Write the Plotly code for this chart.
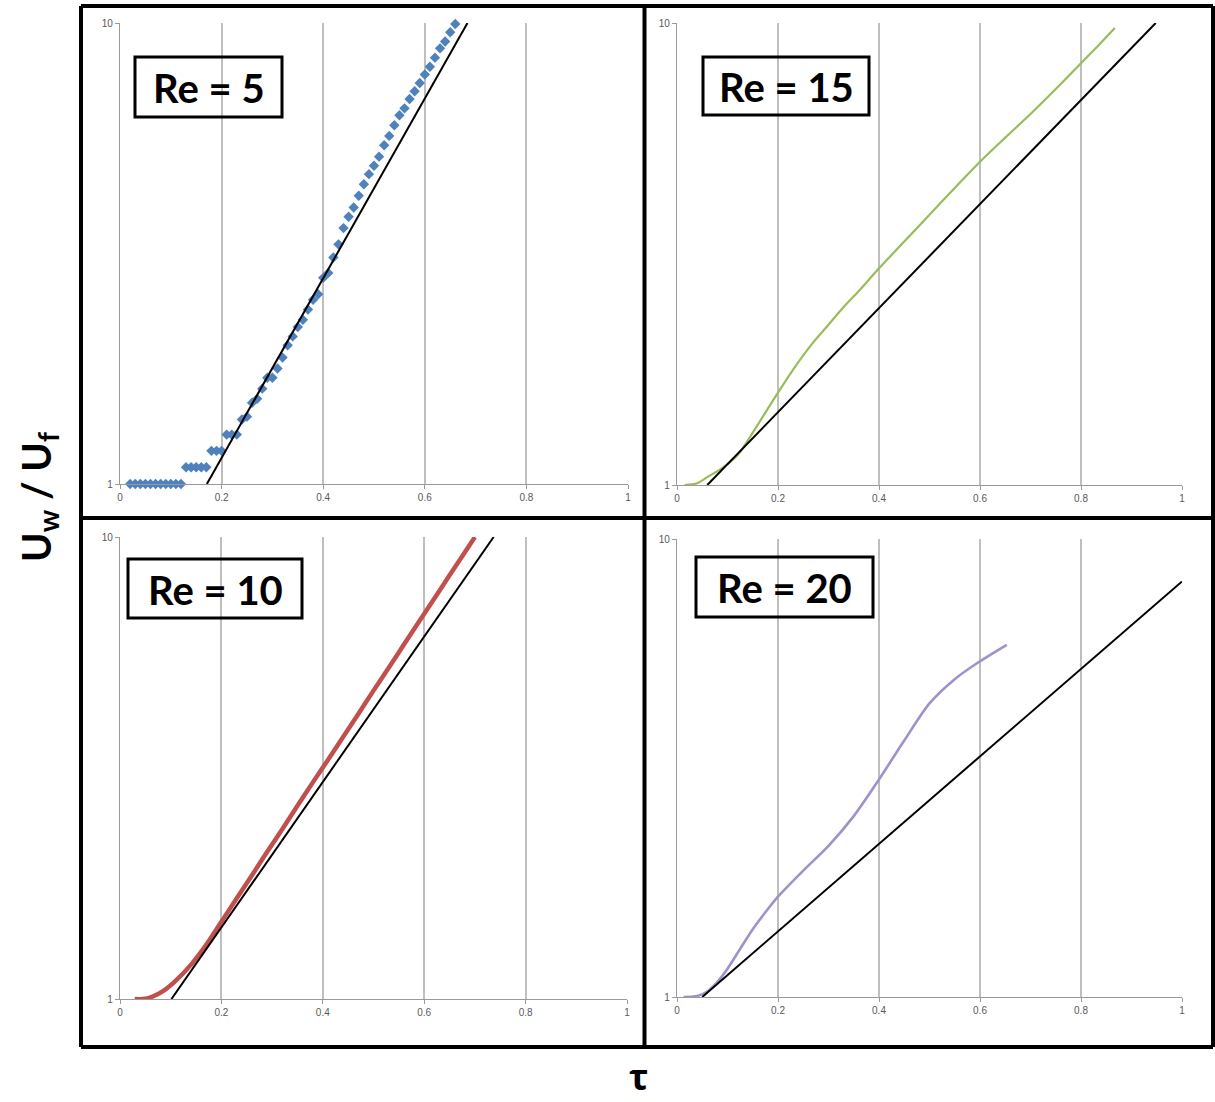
import plotly.graph_objects as go

W, H = 1215, 1102

# ---------------- data ----------------
# Re = 5 (blue diamonds)
re5_x = [0.02, 0.03, 0.04, 0.05, 0.06, 0.07, 0.08, 0.09, 0.10, 0.11, 0.12,
         0.13, 0.14, 0.15, 0.16, 0.17,
         0.18, 0.19, 0.20,
         0.21, 0.22, 0.23,
         0.24, 0.25, 0.26, 0.27, 0.28, 0.29, 0.30, 0.31, 0.32, 0.33, 0.34,
         0.35, 0.36, 0.37, 0.38, 0.39, 0.40, 0.41, 0.42, 0.43, 0.44, 0.45,
         0.46, 0.47, 0.48, 0.49, 0.50, 0.51, 0.52, 0.53, 0.54, 0.55, 0.56,
         0.57, 0.58, 0.59, 0.60, 0.61, 0.62, 0.63, 0.64, 0.65, 0.66]
re5_y = [1.0, 1.0, 1.0, 1.0, 1.0, 1.0, 1.0, 1.0, 1.0, 1.0, 1.0,
         1.087, 1.087, 1.087, 1.087, 1.087,
         1.18, 1.18, 1.18,
         1.28, 1.28, 1.28,
         1.38, 1.40, 1.50, 1.53, 1.61, 1.70, 1.70, 1.78, 1.88, 2.00, 2.09,
         2.19, 2.27, 2.39, 2.51, 2.58, 2.80, 2.87, 3.10, 3.31, 3.59, 3.80,
         3.98, 4.22, 4.47, 4.70, 4.90, 5.13, 5.43, 5.69, 6.00, 6.31, 6.53,
         6.84, 7.11, 7.41, 7.73, 8.04, 8.41, 8.81, 9.12, 9.55, 9.95]
re5_fit_x = [0.171, 0.684]
re5_fit_y = [1.0, 10.0]

# Re = 15 (green line)
re15_x = [0.015, 0.04, 0.06, 0.09, 0.12, 0.155, 0.193, 0.23, 0.267, 0.30, 0.33,
          0.36, 0.40, 0.45, 0.50, 0.55, 0.60, 0.65, 0.70, 0.75, 0.80, 0.835, 0.867]
re15_y = [1.0, 1.009, 1.04, 1.089, 1.161, 1.324, 1.542, 1.778, 2.018, 2.223, 2.427,
          2.63, 2.944, 3.365, 3.846, 4.395, 5.01, 5.649, 6.353, 7.194, 8.185, 8.954, 9.75]
re15_fit_x = [0.06, 0.948]
re15_fit_y = [1.0, 10.0]

# Re = 10 (red line)
re10_x = [0.029, 0.045, 0.062, 0.085, 0.108, 0.141, 0.17, 0.20, 0.23, 0.26,
          0.29, 0.32, 0.35, 0.38, 0.41, 0.44, 0.47, 0.50, 0.53, 0.56,
          0.59, 0.62, 0.65, 0.675, 0.70]
re10_y = [1.0, 1.0, 1.01, 1.04, 1.09, 1.19, 1.31, 1.47, 1.65, 1.85,
          2.08, 2.33, 2.62, 2.94, 3.29, 3.69, 4.14, 4.65, 5.21, 5.85,
          6.56, 7.36, 8.26, 9.08, 10.0]
re10_fit_x = [0.1015, 0.737]
re10_fit_y = [1.0, 10.0]

# Re = 20 (purple line)
re20_x = [0.013, 0.04, 0.06, 0.08, 0.10, 0.125, 0.15, 0.175, 0.20, 0.25,
          0.30, 0.35, 0.40, 0.45, 0.50, 0.55, 0.60, 0.653]
re20_y = [1.0, 1.005, 1.028, 1.079, 1.153, 1.274, 1.406, 1.531, 1.656, 1.888,
          2.138, 2.483, 2.985, 3.631, 4.375, 4.943, 5.408, 5.875]
re20_fit_x = [0.05, 1.0]
re20_fit_y = [1.0, 8.08]

x_ticks = [0, 0.2, 0.4, 0.6, 0.8, 1]
x_tick_text = ["0", "0.2", "0.4", "0.6", "0.8", "1"]
y_ticks = [1, 10]
y_tick_text = ["1", "10"]
panel_labels = ["Re = 5", "Re = 15", "Re = 10", "Re = 20"]

# ---------------- figure ----------------
fig = go.Figure()

def px_x(p):
    return p / W

def px_y(p):
    return 1 - p / H

# panel pixel boxes: (left, right, top, bottom)
panels = [
    (120, 628, 23, 484),   # Re=5
    (677, 1182, 23, 485),  # Re=15
    (120, 627, 537, 999),  # Re=10
    (677, 1182, 539, 997), # Re=20
]

BLUE = "#4F81BD"
GREEN = "#9BBB59"
RED = "#C0504D"
PURPLE = "#A091CB"

series = [
    (re5_x, re5_y, re5_fit_x, re5_fit_y, "markers", BLUE),
    (re15_x, re15_y, re15_fit_x, re15_fit_y, "lines", GREEN),
    (re10_x, re10_y, re10_fit_x, re10_fit_y, "lines", RED),
    (re20_x, re20_y, re20_fit_x, re20_fit_y, "lines", PURPLE),
]
line_widths = [0, 2.2, 4.5, 2.6]

for i, (sx, sy, fx, fy, mode, col) in enumerate(series):
    xa = "x" if i == 0 else f"x{i+1}"
    ya = "y" if i == 0 else f"y{i+1}"
    if mode == "markers":
        fig.add_trace(go.Scatter(x=sx, y=sy, mode="markers", xaxis=xa, yaxis=ya,
                                 marker=dict(symbol="diamond", size=8, color=col),
                                 showlegend=False, cliponaxis=False))
    else:
        fig.add_trace(go.Scatter(x=sx, y=sy, mode="lines", xaxis=xa, yaxis=ya,
                                 line=dict(color=col, width=line_widths[i], shape="spline",
                                           smoothing=0.8),
                                 showlegend=False))
    fig.add_trace(go.Scatter(x=fx, y=fy, mode="lines", xaxis=xa, yaxis=ya,
                             line=dict(color="black", width=2),
                             showlegend=False))

tick_font = dict(family="Liberation Sans, Arial, sans-serif", size=10, color="#595959")
layout = dict(
    width=W, height=H, autosize=False,
    margin=dict(l=0, r=0, t=0, b=0, pad=0, autoexpand=False),
    paper_bgcolor="white", plot_bgcolor="white",
    showlegend=False,
)
for i, (l, r, t, b) in enumerate(panels):
    xk = "xaxis" if i == 0 else f"xaxis{i+1}"
    yk = "yaxis" if i == 0 else f"yaxis{i+1}"
    ya = "y" if i == 0 else f"y{i+1}"
    xa = "x" if i == 0 else f"x{i+1}"
    layout[xk] = dict(
        domain=[px_x(l), px_x(r)], anchor=ya, range=[0, 1],
        tickvals=x_ticks, ticktext=x_tick_text, tickfont=tick_font,
        showgrid=True, gridcolor="#BFBFBF", gridwidth=1.5,
        showline=True, linecolor="#9A9A9A", linewidth=1.2,
        ticks="outside", ticklen=4, tickcolor="#9A9A9A",
        zeroline=False, fixedrange=True, automargin=False,
    )
    layout[yk] = dict(
        domain=[px_y(b), px_y(t)], anchor=xa, type="log", range=[0, 1],
        tickvals=y_ticks, ticktext=y_tick_text, tickfont=tick_font,
        showgrid=True, gridcolor="#BFBFBF", gridwidth=1.5,
        showline=True, linecolor="#9A9A9A", linewidth=1.2,
        ticks="outside", ticklen=4, tickcolor="#9A9A9A",
        zeroline=False, fixedrange=True, automargin=False,
    )
fig.update_layout(**layout)

# label boxes (pixel boxes) and texts
label_boxes = [
    (135, 282, 57, 117),
    (703, 869, 57, 115),
    (128, 302, 559, 618),
    (696, 873, 557, 617),
]
shapes = []
annotations = []
for (l, r, t, b), txt in zip(label_boxes, panel_labels):
    shapes.append(dict(type="rect", xref="paper", yref="paper",
                       x0=px_x(l), x1=px_x(r), y0=px_y(b), y1=px_y(t),
                       line=dict(color="black", width=3), fillcolor="rgba(0,0,0,0)"))
    annotations.append(dict(xref="paper", yref="paper",
                            x=px_x((l + r) / 2), y=px_y((t + b) / 2 + 1),
                            text=f"<b>{txt}</b>", showarrow=False,
                            xanchor="center", yanchor="middle",
                            font=dict(family="Lato, Open Sans, sans-serif", size=40, color="black")))

# outer frame and dividers
FW = 4
frame = [
    (81, 81, 6, 1047), (1213, 1213, 6, 1047),
    (81, 1213, 6, 6), (81, 1213, 1047, 1047),
    (644.5, 644.5, 6, 1047), (81, 1213, 518, 518),
]
for x0, x1, y0, y1 in frame:
    shapes.append(dict(type="line", xref="paper", yref="paper",
                       x0=px_x(x0), x1=px_x(x1), y0=px_y(y0), y1=px_y(y1),
                       line=dict(color="black", width=FW)))

annotations.append(dict(xref="paper", yref="paper", x=px_x(38), y=px_y(497),
                        text="<b>U<sub>w</sub> / U<sub>f</sub></b>", textangle=-90,
                        showarrow=False, xanchor="center", yanchor="middle",
                        font=dict(family="Lato, Open Sans, sans-serif", size=40, color="black")))
annotations.append(dict(xref="paper", yref="paper", x=px_x(638), y=0,
                        text="<b>τ</b>", showarrow=False, xanchor="center", yanchor="bottom",
                        borderpad=0,
                        font=dict(family="Open Sans, Lato, sans-serif", size=36, color="black")))

fig.update_layout(shapes=shapes, annotations=annotations)
fig.write_html("out.html")
